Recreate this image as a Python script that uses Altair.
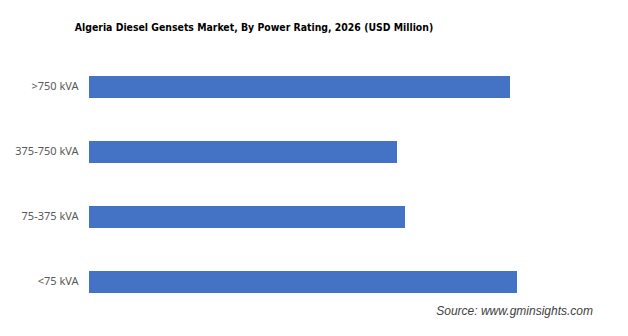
import altair as alt
import pandas as pd

categories = [">750 kVA", "375-750 kVA", "75-375 kVA", "<75 kVA"]
values = [421, 308, 316, 428]
source_note = ["Source: www.gminsights.com"]
title_text = "Algeria Diesel Gensets Market, By Power Rating, 2026 (USD Million)"

df = pd.DataFrame({"rating": categories, "value": values})
src = pd.DataFrame({"note": source_note})

bars = alt.Chart(df).mark_bar(color="#4472C4").encode(
    y=alt.Y("rating:N", sort=categories, title=None,
            scale=alt.Scale(paddingInner=0.6615, paddingOuter=0.33),
            axis=alt.Axis(domain=False, ticks=False, labelPadding=11,
                          labelColor="#595959", labelFontSize=11,
                          labelFont="Noto Sans", grid=False)),
    x=alt.X("value:Q", axis=None, scale=alt.Scale(domain=[0, 539], nice=False)),
)

note = alt.Chart(src).mark_text(
    align="right", baseline="middle", fontStyle="italic",
    font="Liberation Sans", fontSize=12, color="#404040"
).encode(
    text="note:N",
    x=alt.value(593 - 89),
    y=alt.value(311 - 54.5),
)

chart = alt.layer(bars, note).properties(
    width=539, height=260,
    background="white",
    title=alt.TitleParams(title_text, anchor="middle", frame="group", dx=-104.5,
                          offset=21.5,
                          font="'DejaVu Sans Condensed', Roboto, sans-serif",
                          fontSize=10.4, fontWeight="bold", color="#000000"),
    autosize=alt.AutoSizeParams(type="none"),
    padding={"left": 89, "top": 54.5, "right": 0, "bottom": 21.5},
).configure_view(stroke=None)

chart.save("out.html", embed_options={"renderer": "svg", "actions": False})
